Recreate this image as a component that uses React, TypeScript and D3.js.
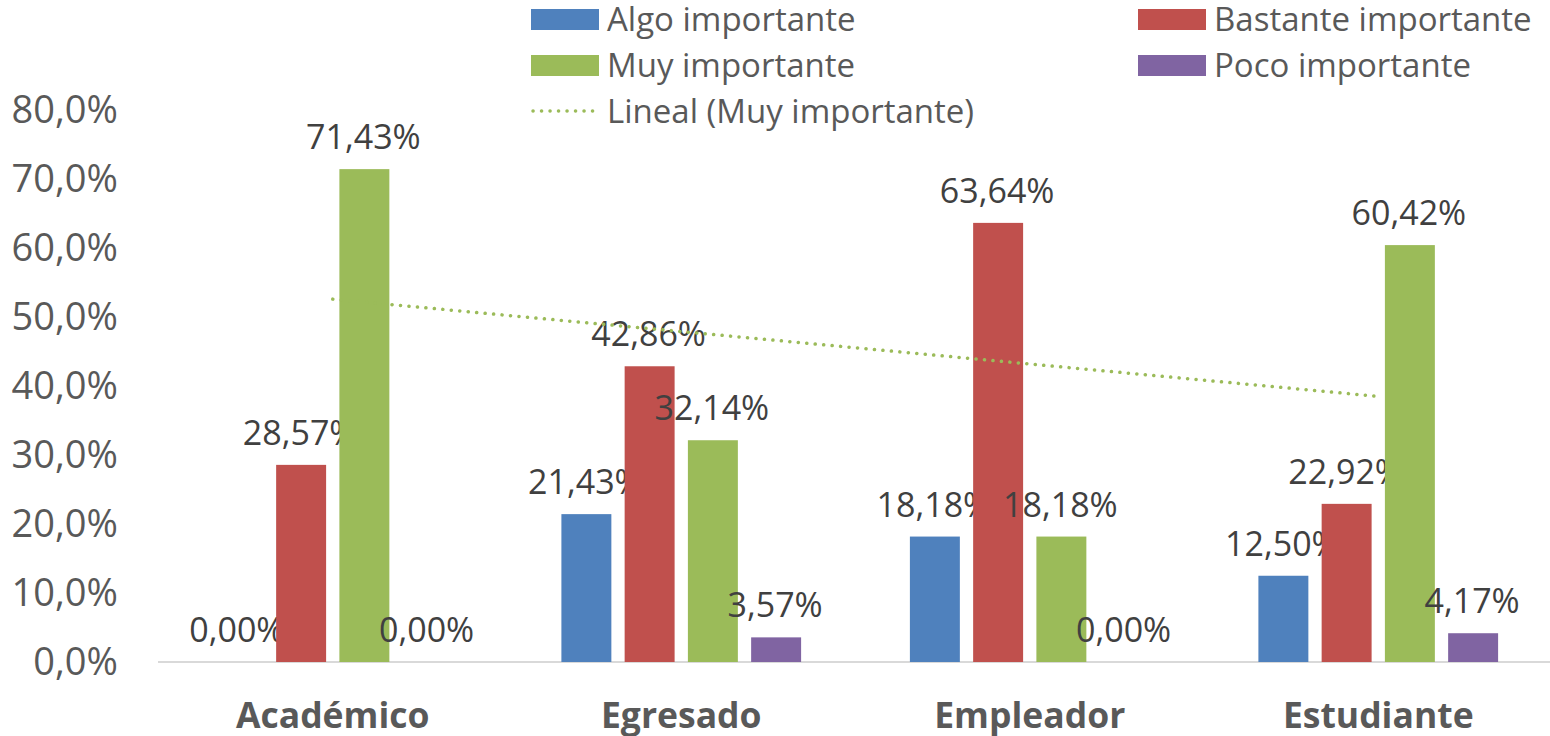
import React from "react";
import * as d3 from "d3";

const categories = ["Académico", "Egresado", "Empleador", "Estudiante"];
const seriesNames = ["Algo importante", "Bastante importante", "Muy importante", "Poco importante"];
const algo = [0.0, 21.43, 18.18, 12.5];
const bastante = [28.57, 42.86, 63.64, 22.92];
const muy = [71.43, 32.14, 18.18, 60.42];
const poco = [0.0, 3.57, 0.0, 4.17];
const yTicks = [0, 10, 20, 30, 40, 50, 60, 70, 80];
const colors = ["#4F81BD", "#C0504D", "#9BBB59", "#8064A2"];

const W = 1550;
const H = 736;
const FONT = "'Open Sans', 'Noto Sans', sans-serif";

export default function App() {
  const series = [algo, bastante, muy, poco];
  const x = d3.scaleBand<string>().domain(categories).range([158.5, 1552.5]).padding(0);
  const inner = d3
    .scaleBand<number>()
    .domain([0, 1, 2, 3])
    .range([0, x.bandwidth()])
    .paddingInner(0.21)
    .paddingOuter(0.86);
  const y = d3.scaleLinear().domain([0, 80]).range([662, 110]);
  const loc = d3.formatLocale({ decimal: ",", thousands: ".", grouping: [3], currency: ["", "€"] });
  const fTick = (v: number) => loc.format(".1f")(v) + "%";
  const fLab = (v: number) => loc.format(".2f")(v) + "%";

  // linear trendline for "Muy importante"
  const xs = muy.map((_, i) => i + 1);
  const mx = d3.mean(xs) as number;
  const my = d3.mean(muy) as number;
  const slope =
    d3.sum(xs.map((xi, i) => (xi - mx) * (muy[i] - my))) / d3.sum(xs.map((xi) => (xi - mx) ** 2));
  const icpt = my - slope * mx;
  const cx = (c: string) => (x(c) as number) + x.bandwidth() / 2;
  const trend = d3
    .line<number>()
    .x((i) => cx(categories[i]))
    .y((i) => y(icpt + slope * (i + 1)));

  const legendItems = [
    { name: seriesNames[0], color: colors[0], x: 531, y: 19.5 },
    { name: seriesNames[1], color: colors[1], x: 1138, y: 19.5 },
    { name: seriesNames[2], color: colors[2], x: 531, y: 65.5 },
    { name: seriesNames[3], color: colors[3], x: 1138, y: 65.5 },
  ];

  return (
    <svg width={W} height={H} style={{ position: "absolute", left: 0, top: 0, background: "#fff" }}>
      <rect width={W} height={H} fill="#fff" />
      {/* y tick labels */}
      {yTicks.map((t) => (
        <text
          key={t}
          x={118}
          y={y(t)}
          dy="0.35em"
          textAnchor="end"
          fontFamily={FONT}
          fontSize={38}
          fill="#595959"
        >
          {fTick(t)}
        </text>
      ))}
      {/* baseline */}
      <line x1={158} x2={1550} y1={y(0)} y2={y(0)} stroke="#D9D9D9" strokeWidth={2} />
      {/* bars */}
      {categories.map((c, ci) =>
        series.map((s, si) => {
          const bx = (x(c) as number) + (inner(si) as number);
          const v = s[ci];
          return (
            <g key={c + si}>
              {v > 0 && (
                <rect
                  x={bx}
                  y={y(v)}
                  width={inner.bandwidth()}
                  height={y(0) - y(v)}
                  fill={colors[si]}
                />
              )}
              <text
                x={bx + inner.bandwidth() / 2 - 1}
                y={y(v) - 20}
                textAnchor="middle"
                fontFamily={FONT}
                fontSize={34}
                fill="#404040"
              >
                {fLab(v)}
              </text>
            </g>
          );
        })
      )}
      {/* trendline */}
      <path
        d={trend([0, 1, 2, 3]) as string}
        fill="none"
        stroke="#9BBB59"
        strokeWidth={3.5}
        strokeDasharray="0.1 8.4"
        strokeLinecap="round"
      />
      {/* category labels */}
      {categories.map((c) => (
        <text
          key={c}
          x={cx(c)}
          y={728}
          textAnchor="middle"
          fontFamily={FONT}
          fontWeight="bold"
          fontSize={35.5}
          fill="#595959"
        >
          {c}
        </text>
      ))}
      {/* legend */}
      {legendItems.map((l) => (
        <g key={l.name}>
          <rect x={l.x} y={l.y - 10.5} width={68} height={21} fill={l.color} />
          <text x={l.x + 76} y={l.y} dy="0.35em" fontFamily={FONT} fontSize={33} fill="#595959">
            {l.name}
          </text>
        </g>
      ))}
      <line
        x1={533}
        x2={600}
        y1={111}
        y2={111}
        stroke="#9BBB59"
        strokeWidth={3.5}
        strokeDasharray="0.1 8.4"
        strokeLinecap="round"
      />
      <text x={607} y={111} dy="0.35em" fontFamily={FONT} fontSize={33} fill="#595959">
        Lineal (Muy importante)
      </text>
    </svg>
  );
}
